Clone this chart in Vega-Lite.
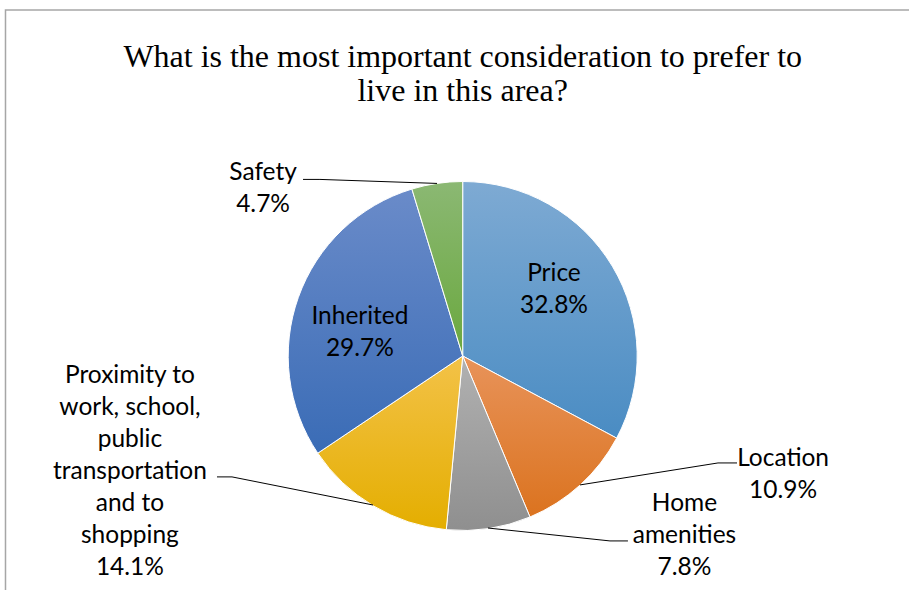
{
  "$schema": "https://vega.github.io/schema/vega-lite/v6.json",
  "width": 914.4,
  "height": 700,
  "autosize": {"type": "none"},
  "padding": {"left": 5.5, "top": 10, "right": 0, "bottom": 0},
  "background": "white",
  "view": {"stroke": "#a6a6a6", "strokeWidth": 1.5},
  "title": {
    "text": ["What is the most important consideration to prefer to", "live in this area?"],
    "font": "Liberation Serif",
    "fontSize": 32,
    "fontWeight": "normal",
    "color": "#000000",
    "lineHeight": 34.5,
    "anchor": "middle",
    "baseline": "bottom",
    "offset": -130
  },
  "datasets": {
    "slices": [
      {"idx": 0, "cat": "Price", "pct": 32.8, "label": "Price\n32.8%", "lx": 52.3, "ly": 46.8},
      {"idx": 1, "cat": "Location", "pct": 10.9, "label": "Location\n10.9%", "lx": 183.6, "ly": -59.3},
      {"idx": 2, "cat": "Home amenities", "pct": 7.8, "label": "Home\namenities\n7.8%", "lx": 127.1, "ly": -85.0},
      {"idx": 3, "cat": "Proximity", "pct": 14.1, "label": "Proximity to\nwork, school,\npublic\ntransportation\nand to\nshopping\n14.1%", "lx": -190.7, "ly": -11.7},
      {"idx": 4, "cat": "Inherited", "pct": 29.7, "label": "Inherited\n29.7%", "lx": -58.9, "ly": 22.3},
      {"idx": 5, "cat": "Safety", "pct": 4.7, "label": "Safety\n4.7%", "lx": -114.4, "ly": 104.8}
    ],
    "leaders": [
      {"cat": "Safety", "i": 0, "px": -91.5, "py": 101.2},
      {"cat": "Safety", "i": 1, "px": -81.8, "py": 101.2},
      {"cat": "Safety", "i": 2, "px": -14.7, "py": 98.9},
      {"cat": "Location", "i": 0, "px": 157.2, "py": -61.3},
      {"cat": "Location", "i": 1, "px": 146.3, "py": -61.3},
      {"cat": "Location", "i": 2, "px": 67.2, "py": -73.9},
      {"cat": "Home amenities", "i": 0, "px": 94.7, "py": -106.0},
      {"cat": "Home amenities", "i": 1, "px": 84.4, "py": -106.0},
      {"cat": "Home amenities", "i": 2, "px": 14.5, "py": -98.6},
      {"cat": "Proximity", "i": 0, "px": -140.8, "py": -69.3},
      {"cat": "Proximity", "i": 1, "px": -132.2, "py": -69.3},
      {"cat": "Proximity", "i": 2, "px": -51.4, "py": -85.4}
    ]
  },
  "layer": [
    {
      "data": {"name": "slices"},
      "mark": {"type": "arc", "radius": 174.5, "stroke": "#ffffff", "strokeWidth": 1},
      "encoding": {
        "x": {"datum": 0, "type": "quantitative", "scale": {"domain": [-262, 262], "zero": false, "nice": false}, "axis": null},
        "y": {"datum": 0, "type": "quantitative", "scale": {"domain": [-202.9, 198.3], "zero": false, "nice": false}, "axis": null},
        "theta": {"field": "pct", "type": "quantitative", "stack": true},
        "order": {"field": "idx", "type": "quantitative"},
        "detail": {"field": "idx", "type": "ordinal"},
        "fill": {
          "condition": [
            {"test": "datum.cat === 'Price'", "value": {"gradient": "linear", "x1": 0, "y1": 0, "x2": 0, "y2": 1, "stops": [{"offset": 0, "color": "#7eaad3"}, {"offset": 1, "color": "#4a8cc3"}]}},
            {"test": "datum.cat === 'Location'", "value": {"gradient": "linear", "x1": 0, "y1": 0, "x2": 0, "y2": 1, "stops": [{"offset": 0, "color": "#e8935a"}, {"offset": 1, "color": "#db731f"}]}},
            {"test": "datum.cat === 'Home amenities'", "value": {"gradient": "linear", "x1": 0, "y1": 0, "x2": 0, "y2": 1, "stops": [{"offset": 0, "color": "#b1b1b1"}, {"offset": 1, "color": "#8f8f8f"}]}},
            {"test": "datum.cat === 'Proximity'", "value": {"gradient": "linear", "x1": 0, "y1": 0, "x2": 0, "y2": 1, "stops": [{"offset": 0, "color": "#f3c248"}, {"offset": 1, "color": "#e4ae00"}]}},
            {"test": "datum.cat === 'Inherited'", "value": {"gradient": "linear", "x1": 0, "y1": 0, "x2": 0, "y2": 1, "stops": [{"offset": 0, "color": "#6a8bc9"}, {"offset": 1, "color": "#3a6cb6"}]}}
          ],
          "value": {"gradient": "linear", "x1": 0, "y1": 0, "x2": 0, "y2": 1, "stops": [{"offset": 0, "color": "#8bb873"}, {"offset": 1, "color": "#6aa83e"}]}
        }
      }
    },
    {
      "data": {"name": "leaders"},
      "mark": {"type": "line", "color": "#000000", "strokeWidth": 1},
      "encoding": {
        "x": {"field": "px", "type": "quantitative", "scale": {"domain": [-262, 262], "zero": false, "nice": false}, "axis": null},
        "y": {"field": "py", "type": "quantitative", "scale": {"domain": [-202.9, 198.3], "zero": false, "nice": false}, "axis": null},
        "detail": {"field": "cat", "type": "nominal"},
        "order": {"field": "i", "type": "quantitative"}
      }
    },
    {
      "data": {"name": "slices"},
      "mark": {"type": "text", "font": "Lato", "fontSize": 24.5, "lineHeight": 32, "lineBreak": "\n", "align": "center", "baseline": "middle", "color": "#000000"},
      "encoding": {
        "x": {"field": "lx", "type": "quantitative", "scale": {"domain": [-262, 262], "zero": false, "nice": false}, "axis": null},
        "y": {"field": "ly", "type": "quantitative", "scale": {"domain": [-202.9, 198.3], "zero": false, "nice": false}, "axis": null},
        "text": {"field": "label"}
      }
    }
  ]
}
